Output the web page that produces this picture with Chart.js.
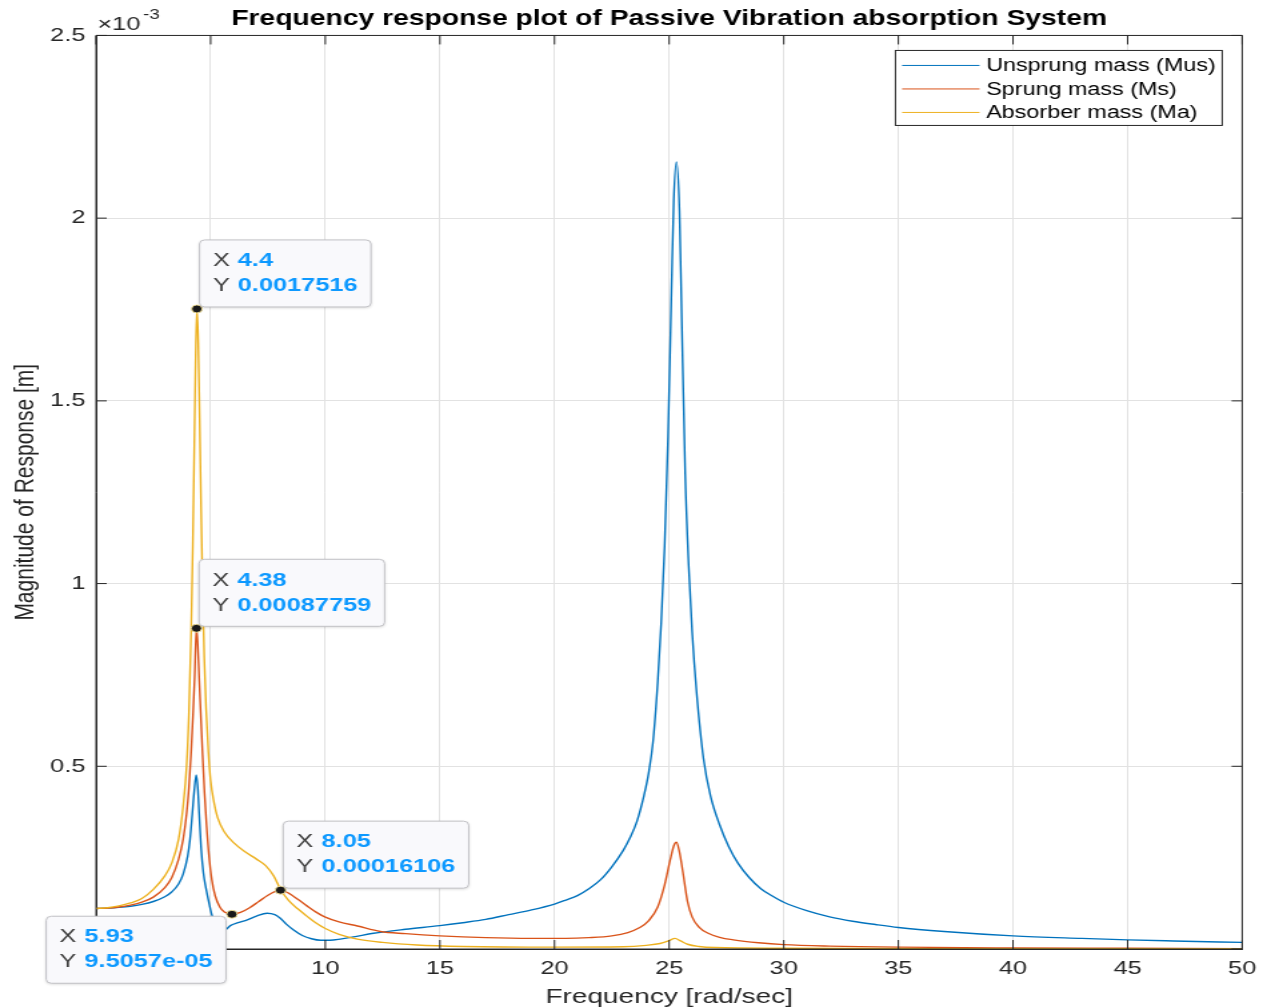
<!DOCTYPE html>
<html>
<head>
<meta charset="utf-8">
<title>Frequency response plot</title>
<script src="https://cdn.jsdelivr.net/npm/chart.js@4.4.1/dist/chart.umd.min.js"></script>
<style>
  html, body { margin: 0; padding: 0; background: #fff; overflow: hidden; }
  /* the figure is laid out at 950px and stretched across the 1267px window */
  #wrap { width: 950px; height: 1008px; transform: scaleX(1.33368); transform-origin: 0 0; }
</style>
</head>
<body>
<div id="wrap"><canvas id="freqChart"></canvas></div>
<script>
const FONT = "'Liberation Sans', Arial, Helvetica, sans-serif";

// amplitudes are in units of 1e-3 m (axis shows x10^-3)
const musFreq = [0, 0.5, 1, 1.5, 2, 2.5, 3, 3.3, 3.6, 3.8, 4, 4.1, 4.2, 4.28, 4.37, 4.44, 4.5, 4.58, 4.68, 4.8,
  4.95, 5.07, 5.3, 5.5, 5.7, 5.86, 6.2, 6.6, 7, 7.46, 7.8, 8.04, 8.3, 8.62, 9, 9.4, 9.8, 10.2, 10.65, 11.3,
  12.1, 13.5, 15, 16, 17, 18, 19, 20, 20.5, 21, 21.5, 22, 22.5, 23, 23.3, 23.6, 23.9, 24.1, 24.3, 24.5,
  24.65, 24.8, 24.95, 25.1, 25.2, 25.32, 25.45, 25.55, 25.7, 25.85, 26, 26.2, 26.5, 26.8, 27.2, 27.6, 28, 28.5, 29, 29.5,
  30, 31, 32, 33, 34, 35, 37, 40, 43, 45, 47, 50];
const musAmp = [0.111, 0.112, 0.114, 0.117, 0.122, 0.13, 0.143, 0.156, 0.178, 0.205, 0.255, 0.3, 0.37, 0.43, 0.476, 0.44, 0.37, 0.28, 0.21, 0.165,
  0.12, 0.09, 0.06, 0.05, 0.055, 0.064, 0.072, 0.08, 0.09, 0.098, 0.094, 0.084, 0.068, 0.052, 0.037, 0.028, 0.024, 0.024, 0.027, 0.034,
  0.043, 0.054, 0.064, 0.072, 0.081, 0.094, 0.107, 0.123, 0.134, 0.146, 0.165, 0.189, 0.225, 0.27, 0.305, 0.35, 0.42, 0.48, 0.57, 0.73,
  0.89, 1.1, 1.4, 1.8, 2.05, 2.154, 2.02, 1.72, 1.3, 1.05, 0.87, 0.7, 0.52, 0.42, 0.34, 0.28, 0.235, 0.195, 0.165, 0.145,
  0.128, 0.105, 0.088, 0.076, 0.067, 0.059, 0.048, 0.036, 0.029, 0.025, 0.022, 0.018];

const msFreq = [0, 0.5, 1, 1.5, 2, 2.5, 3, 3.3, 3.6, 3.8, 3.95, 4.05, 4.15, 4.23, 4.3, 4.38, 4.44, 4.5, 4.57, 4.65,
  4.73, 4.82, 4.92, 5.05, 5.2, 5.4, 5.6, 5.93, 6.3, 6.7, 7.1, 7.5, 7.8, 8.05, 8.4, 8.8, 9.2, 9.6, 10, 10.6,
  11.4, 12.4, 13.5, 15, 17, 19, 20.5, 21.5, 22.5, 23.2, 23.7, 24.1, 24.5, 24.8, 25.05, 25.2, 25.32, 25.45, 25.6, 25.8,
  26, 26.3, 26.7, 27.2, 27.8, 28.9, 30, 32, 35, 40, 45, 50];
const msAmp = [0.111, 0.112, 0.115, 0.12, 0.128, 0.142, 0.168, 0.195, 0.245, 0.3, 0.37, 0.44, 0.54, 0.64, 0.74, 0.87759, 0.83, 0.74, 0.64, 0.53,
  0.43, 0.34, 0.26, 0.19, 0.145, 0.115, 0.101, 0.095057, 0.1, 0.113, 0.13, 0.147, 0.157, 0.16106, 0.153, 0.136, 0.118, 0.101, 0.087, 0.074,
  0.063, 0.048, 0.042, 0.036, 0.031, 0.029, 0.029, 0.031, 0.036, 0.045, 0.058, 0.077, 0.115, 0.175, 0.245, 0.282, 0.292, 0.265, 0.21, 0.13,
  0.088, 0.06, 0.043, 0.032, 0.025, 0.017, 0.012, 0.008, 0.005, 0.003, 0.002, 0.001];

const maFreq = [0, 0.5, 1, 1.5, 2, 2.5, 3, 3.3, 3.6, 3.8, 3.95, 4.05, 4.15, 4.22, 4.28, 4.34, 4.4, 4.46, 4.52, 4.58,
  4.65, 4.72, 4.8, 4.9, 5, 5.15, 5.3, 5.6, 6, 6.5, 7, 7.4, 7.75, 8.05, 8.4, 8.8, 9.2, 9.6, 10, 10.6,
  11.4, 12.5, 14, 16, 20, 23, 24, 24.6, 25, 25.25, 25.5, 25.8, 26.3, 27, 30, 40, 50];
const maAmp = [0.111, 0.113, 0.118, 0.126, 0.138, 0.163, 0.2, 0.235, 0.3, 0.39, 0.5, 0.64, 0.87, 1.1, 1.35, 1.6, 1.7516, 1.66, 1.45, 1.22,
  0.98, 0.8, 0.66, 0.54, 0.46, 0.4, 0.36, 0.32, 0.291, 0.266, 0.246, 0.228, 0.2, 0.163, 0.133, 0.11, 0.09, 0.071, 0.056, 0.04,
  0.027, 0.018, 0.011, 0.007, 0.005, 0.006, 0.01, 0.015, 0.023, 0.029, 0.022, 0.013, 0.007, 0.004, 0.002, 0.001, 0.0005];

const seriesNames = ['Unsprung mass (Mus)', 'Sprung mass (Ms)', 'Absorber mass (Ma)'];
const seriesColors = ['#0072BD', '#D95319', '#EDB120'];

// data tips (x in rad/sec, y in m)
const tipFreq = [4.4, 4.38, 8.05, 5.93];
const tipAmp = [0.0017516, 0.00087759, 0.00016106, 9.5057e-05];
const tipPlace = ['ne', 'ne', 'ne', 'sw'];

function pts(xs, ys) {
  return xs.map((x, i) => ({ x: x, y: ys[i] }));
}

function tipText(v) {
  if (Math.abs(v) < 1e-4) return v.toExponential(4).replace(/e([+-])(\d)$/, 'e$10$2');
  return String(Number(v.toPrecision(5)));
}

// box outline on all four sides plus inward tick marks
const framePlugin = {
  id: 'frame',
  afterDatasetsDraw(chart) {
    const { ctx, chartArea: a, scales: { x, y } } = chart;
    ctx.save();
    ctx.strokeStyle = '#262626';
    ctx.lineWidth = 1;
    ctx.beginPath();
    ctx.rect(a.left, a.top, a.right - a.left, a.bottom - a.top);
    x.ticks.forEach(t => {
      const px = x.getPixelForValue(t.value);
      ctx.moveTo(px, a.bottom); ctx.lineTo(px, a.bottom - 9);
      ctx.moveTo(px, a.top); ctx.lineTo(px, a.top + 9);
    });
    y.ticks.forEach(t => {
      const py = y.getPixelForValue(t.value);
      ctx.moveTo(a.left, py); ctx.lineTo(a.left + 8, py);
      ctx.moveTo(a.right, py); ctx.lineTo(a.right - 8, py);
    });
    ctx.stroke();

    // exponent label above the y axis
    ctx.fillStyle = '#262626';
    ctx.textBaseline = 'alphabetic';
    ctx.textAlign = 'left';
    ctx.font = '19px ' + FONT;
    ctx.fillText('\u00d710', a.left + 1, a.top - 5);
    const w = ctx.measureText('\u00d710').width;
    ctx.font = '14px ' + FONT;
    ctx.fillText('-3', a.left + 3 + w, a.top - 16);
    ctx.restore();
  }
};

const legendBox = {
  id: 'legendBox',
  afterDraw(chart) {
    const { ctx, chartArea: a } = chart;
    const right = a.right - 15, top = a.top + 15, w = 245, h = 75;
    const left = right - w;
    ctx.save();
    ctx.fillStyle = '#fff';
    ctx.fillRect(left, top, w, h);
    ctx.strokeStyle = '#262626';
    ctx.lineWidth = 1;
    ctx.strokeRect(left, top, w, h);
    ctx.font = '17.5px ' + FONT;
    ctx.textBaseline = 'middle';
    ctx.textAlign = 'left';
    chart.data.datasets.slice(0, 3).forEach((ds, i) => {
      const cy = top + 15 + i * 23.5;
      ctx.strokeStyle = ds.borderColor;
      ctx.beginPath();
      ctx.moveTo(left + 5, cy);
      ctx.lineTo(left + 63, cy);
      ctx.stroke();
      ctx.fillStyle = '#000';
      ctx.fillText(ds.label, left + 68, cy + 1);
    });
    ctx.restore();
  }
};

const dataTips = {
  id: 'dataTips',
  afterDraw(chart) {
    const { ctx, scales: { x, y } } = chart;
    ctx.save();
    tipFreq.forEach((f, i) => {
      const px = x.getPixelForValue(f);
      const py = y.getPixelForValue(tipAmp[i] * 1000);
      const xs = String(f), ys = tipText(tipAmp[i]);
      ctx.font = '19px ' + FONT;
      const wl = ctx.measureText('X').width;
      ctx.font = 'bold 19px ' + FONT;
      const wv = Math.max(ctx.measureText(xs).width, ctx.measureText(ys).width);
      const w = 10 + wl + 6 + wv + 10, h = 67;
      let bx, by;
      if (tipPlace[i] === 'ne') { bx = px + 2; by = py - 2 - h; }
      else { bx = px - 4.5 - w; by = py + 2; }

      ctx.shadowColor = 'rgba(0,0,0,0.18)';
      ctx.shadowBlur = 3;
      ctx.shadowOffsetY = 1;
      ctx.beginPath();
      ctx.roundRect(bx, by, w, h, 4);
      ctx.fillStyle = '#f9f9fc';
      ctx.fill();
      ctx.shadowColor = 'transparent';
      ctx.strokeStyle = '#c2c2c6';
      ctx.lineWidth = 1;
      ctx.stroke();

      ctx.textBaseline = 'middle';
      ctx.textAlign = 'left';
      ctx.font = '19px ' + FONT;
      ctx.fillStyle = '#404040';
      ctx.fillText('X', bx + 10, by + 21);
      ctx.fillText('Y', bx + 10, by + 46);
      ctx.font = 'bold 19px ' + FONT;
      ctx.fillStyle = '#0d99ff';
      ctx.fillText(xs, bx + 16 + wl, by + 21);
      ctx.fillText(ys, bx + 16 + wl, by + 46);
    });
    ctx.restore();
  }
};

const lineStyle = { borderWidth: 1.4, pointRadius: 0, fill: false, cubicInterpolationMode: 'monotone' };

new Chart(document.getElementById('freqChart'), {
  type: 'line',
  data: {
    datasets: [
      Object.assign({ label: seriesNames[0], data: pts(musFreq, musAmp), borderColor: seriesColors[0], order: 3 }, lineStyle),
      Object.assign({ label: seriesNames[1], data: pts(msFreq, msAmp), borderColor: seriesColors[1], order: 2 }, lineStyle),
      Object.assign({ label: seriesNames[2], data: pts(maFreq, maAmp), borderColor: seriesColors[2], order: 1 }, lineStyle),
      {
        label: 'tips',
        data: pts(tipFreq, tipAmp.map(v => v * 1000)),
        showLine: false,
        pointRadius: 4,
        pointBackgroundColor: '#1a1a1a',
        pointBorderColor: 'rgba(255,236,160,0.9)',
        pointBorderWidth: 1,
        order: 0
      }
    ]
  },
  options: {
    responsive: true,
    maintainAspectRatio: false,
    animation: false,
    events: [],
    layout: { padding: { top: 0, right: 18, bottom: 0, left: 0 } },
    plugins: {
      legend: { display: false },
      tooltip: { enabled: false },
      title: {
        display: true,
        fullSize: false,
        text: 'Frequency response plot of Passive Vibration absorption System',
        color: '#000',
        font: { family: FONT, size: 21.2, weight: 'bold' },
        padding: { top: 6, bottom: 4 }
      }
    },
    scales: {
      x: {
        type: 'linear',
        min: 0,
        max: 50,
        ticks: { stepSize: 5, color: '#262626', font: { family: FONT, size: 19 }, padding: 8, maxRotation: 0, autoSkip: false },
        grid: { color: '#e2e2e2', drawTicks: false },
        border: { color: '#262626', width: 1 },
        title: {
          display: true,
          text: 'Frequency [rad/sec]',
          color: '#262626',
          font: { family: FONT, size: 21, lineHeight: 1 },
          padding: { top: 0, bottom: 0 }
        },
        afterFit(scale) { scale.height = 59; }
      },
      y: {
        min: 0,
        max: 2.5,
        ticks: {
          stepSize: 0.5,
          color: '#262626',
          font: { family: FONT, size: 19 },
          padding: 8,
          callback: v => String(Number(v.toFixed(2)))
        },
        grid: { color: '#e2e2e2', drawTicks: false },
        border: { color: '#262626', width: 1 },
        title: {
          display: true,
          text: 'Magnitude of Response [m]',
          color: '#262626',
          font: { family: FONT, size: 21, lineHeight: 1.2 },
          padding: { top: 7, bottom: 0 }
        },
        afterFit(scale) { scale.width = 72; }
      }
    }
  },
  plugins: [framePlugin, legendBox, dataTips]
});
</script>
</body>
</html>
